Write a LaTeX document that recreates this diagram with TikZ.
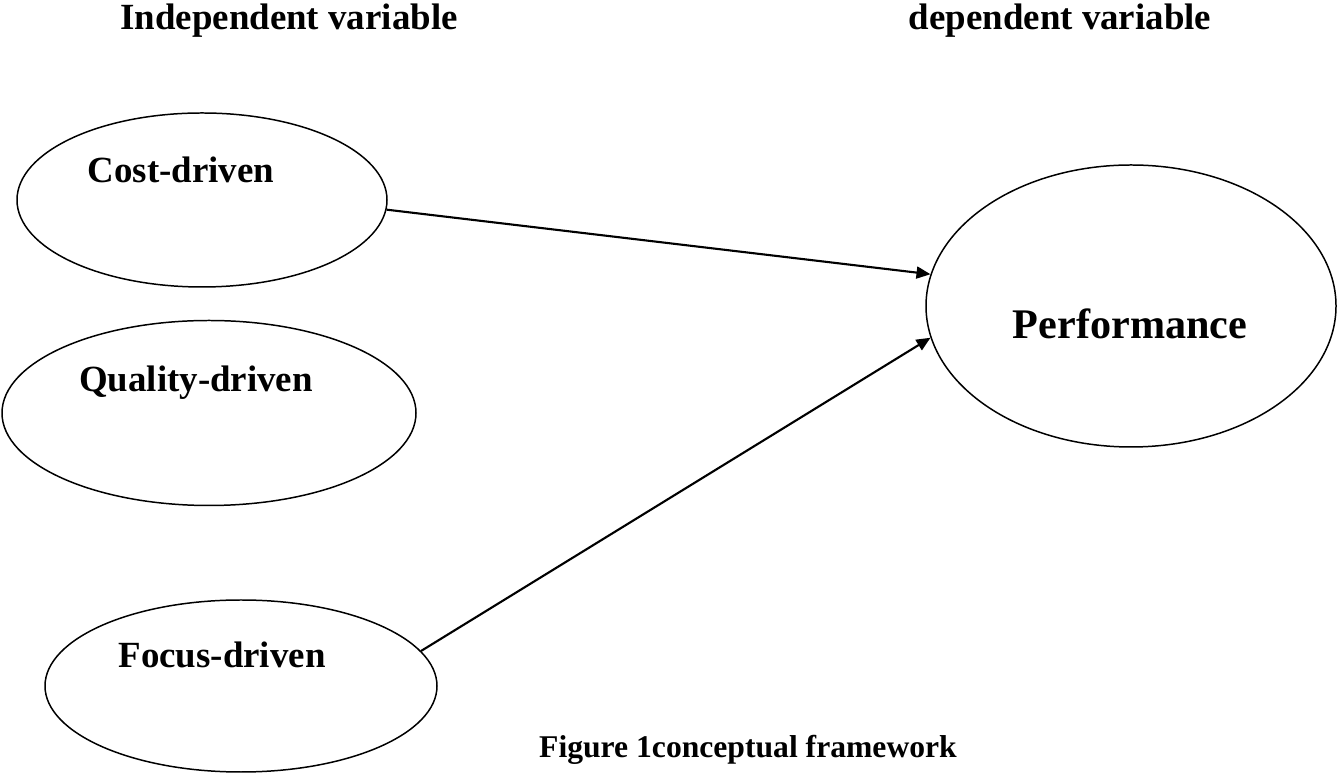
\documentclass[tikz,border=0pt]{standalone}
\usepackage{fontspec}
\setmainfont{Liberation Serif}
\usetikzlibrary{shapes.geometric,arrows.meta}
\begin{document}
\begin{tikzpicture}[var/.style={ellipse,draw,line width=0.85pt,inner sep=0pt},
  lbl/.style={font=\bfseries\fontsize{21}{25}\selectfont,anchor=base,inner sep=0pt},
  link/.style={-{Triangle[length=2.8mm,width=2.4mm]},line width=1.2pt}]
%cadre de la figure
\useasboundingbox (0,0) rectangle (26.74,15.48);
\node[lbl] (indep) at (5.78,14.88) {Independent variable};
\node[lbl] (dep) at (21.2,14.88) {dependent variable};
%les trois ellipses de gauche et celle de droite
\node[var,minimum width=7.4cm,minimum height=3.48cm] (cost) at (4.04,11.48) {};
\node[var,minimum width=8.28cm,minimum height=3.7cm] (quality) at (4.18,7.22) {};
\node[var,minimum width=7.84cm,minimum height=3.44cm] (focus) at (4.82,1.76) {};
\node[var,minimum width=8.2cm,minimum height=5.64cm] (perf) at (22.62,9.36) {};
\node[lbl] (cost-txt) at (3.62,11.82) {Cost-driven};
\node[lbl] (quality-txt) at (3.92,7.64) {Quality-driven};
\node[lbl] (focus-txt) at (4.44,2.12) {Focus-driven};
\node[lbl,font=\bfseries\fontsize{24}{28}\selectfont] (perf-txt) at (22.6,8.7) {Performance};
\draw[link] (cost.-3) -- (perf.171);
\draw[link] (focus.11) -- (perf.189);
\node[lbl,font=\bfseries\fontsize{18}{22}\selectfont] (caption) at (14.96,0.32) {Figure 1conceptual framework};
\end{tikzpicture}
\end{document}
